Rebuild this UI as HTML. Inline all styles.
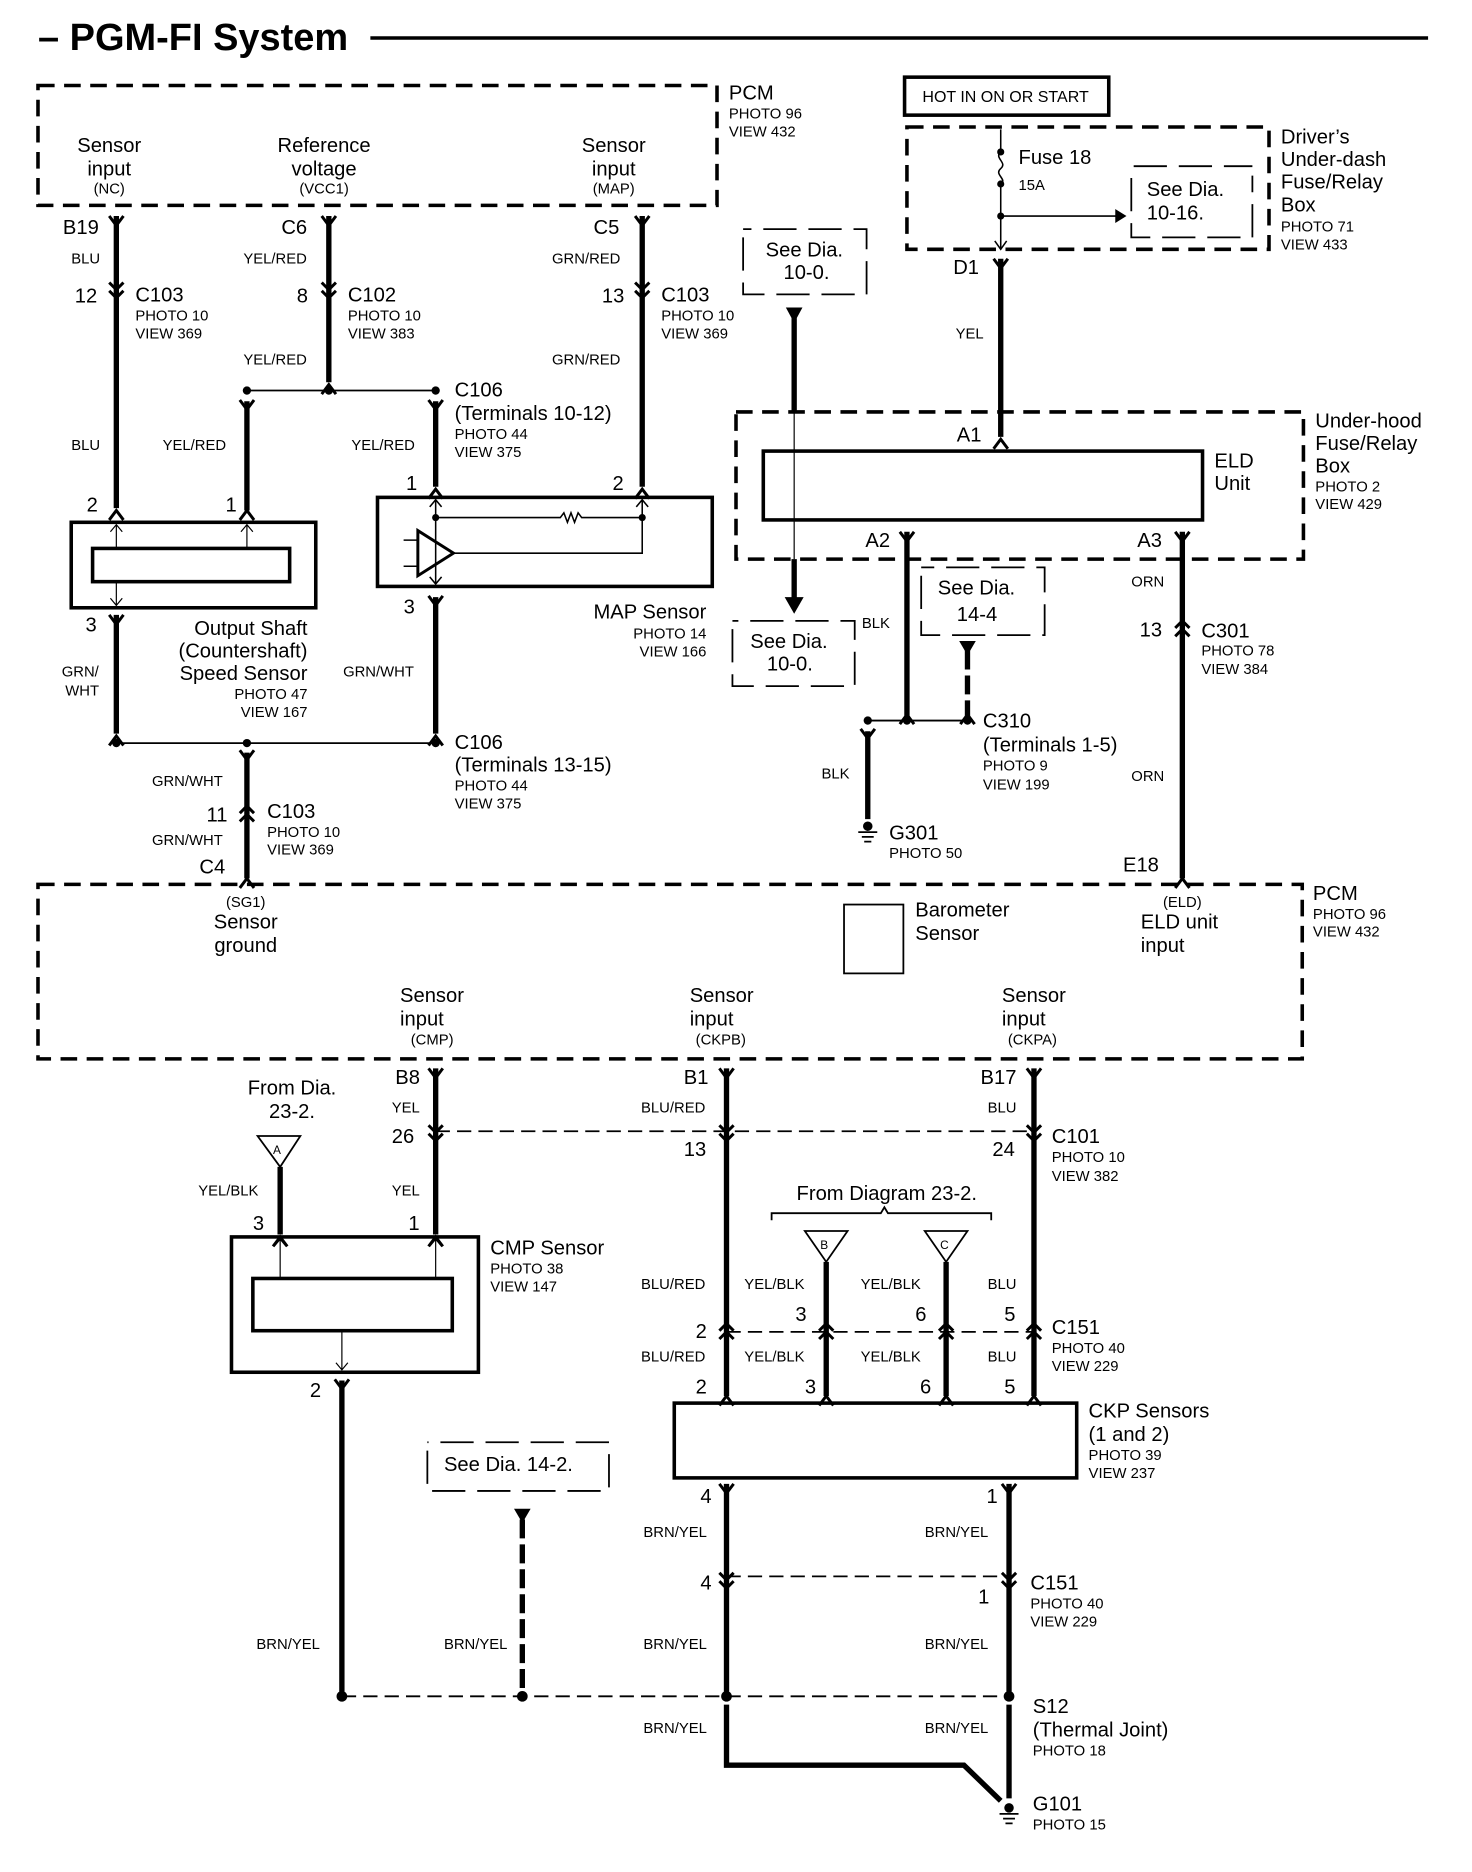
<!DOCTYPE html>
<html><head><meta charset="utf-8"><style>
html,body{margin:0;padding:0;background:#fff}
svg{display:block}
text{font-family:"Liberation Sans",sans-serif;fill:#000}
.L{font-size:17px}
.M{font-size:16px}
.S{font-size:12.5px}
.T{font-size:32px;font-weight:bold}
.c{text-anchor:middle}
.r{text-anchor:end}
</style></head><body>
<svg width="1472" height="1872" viewBox="0 0 1240 1577" preserveAspectRatio="none" xmlns="http://www.w3.org/2000/svg">
<defs>
<path id="yd" d="M-6,-6 L0,2 L6,-6" stroke="#000" stroke-width="2.5" fill="none"/>
<path id="yu" d="M-6,6 L0,-2 L6,6" stroke="#000" stroke-width="2.5" fill="none"/>
<path id="dd" d="M-6,-8 L0,-2 L6,-8 M-6,-1 L0,5 L6,-1" stroke="#000" stroke-width="2.5" fill="none"/>
<path id="du" d="M-6,8 L0,2 L6,8 M-6,1 L0,-5 L6,1" stroke="#000" stroke-width="2.5" fill="none"/>
<g id="gnd"><circle cx="0" cy="-3" r="4"/><path d="M-8,2H8M-5,6H5M-3,10H3" stroke="#000" stroke-width="1.5"/></g>
</defs>
<g fill="none" stroke="#000">
<!-- title line -->
<line x1="312" y1="32" x2="1203" y2="32" stroke-width="3"/>
<!-- PCM top -->
<rect x="32" y="72" width="572" height="101" stroke-width="3" stroke-dasharray="14 8"/>
<!-- thick wires -->
<g stroke-width="4.5">
<line x1="98" y1="182" x2="98" y2="428"/>
<line x1="277" y1="182" x2="277" y2="322"/>
<line x1="541" y1="182" x2="541" y2="410"/>
<line x1="208" y1="338" x2="208" y2="430"/>
<line x1="367" y1="338" x2="367" y2="410"/>
<line x1="98" y1="518" x2="98" y2="618"/>
<line x1="367" y1="503" x2="367" y2="618"/>
<line x1="208" y1="634" x2="208" y2="740"/>
<line x1="843" y1="218" x2="843" y2="368"/>
<line x1="764" y1="448" x2="764" y2="603"/>
<line x1="996" y1="448" x2="996" y2="740"/>
<line x1="669" y1="268" x2="669" y2="347"/>
<line x1="669" y1="471" x2="669" y2="505"/>
<line x1="731" y1="616" x2="731" y2="690"/>
<line x1="367" y1="900" x2="367" y2="1040"/>
<line x1="612" y1="900" x2="612" y2="1176"/>
<line x1="871" y1="900" x2="871" y2="1176"/>
<line x1="236" y1="983" x2="236" y2="1040"/>
<line x1="696" y1="1063" x2="696" y2="1176"/>
<line x1="797" y1="1063" x2="797" y2="1176"/>
<line x1="288" y1="1163" x2="288" y2="1425"/>
<line x1="612" y1="1250" x2="612" y2="1425"/>
<line x1="850" y1="1250" x2="850" y2="1425"/>
<polyline points="612,1436 612,1487 812,1487 843,1517"/>
<line x1="850" y1="1436" x2="850" y2="1515"/>
</g>
<g stroke-width="4.5" stroke-dasharray="16 5">
<line x1="815" y1="548" x2="815" y2="603"/>
<line x1="440" y1="1280" x2="440" y2="1425"/>
</g>
<line x1="669" y1="347" x2="669" y2="471" stroke-width="1"/>
<!-- thin junctions -->
<g stroke-width="1.5">
<line x1="208" y1="329" x2="367" y2="329"/>
<line x1="98" y1="626" x2="367" y2="626"/>
<line x1="731" y1="607" x2="815" y2="607"/>
</g>
<g stroke-width="1.5" stroke-dasharray="12 6">
<line x1="367" y1="953" x2="871" y2="953"/>
<line x1="612" y1="1122" x2="871" y2="1122"/>
<line x1="612" y1="1328" x2="850" y2="1328"/>
<line x1="288" y1="1429" x2="850" y2="1429"/>
</g>
<!-- output shaft sensor -->
<rect x="60" y="440" width="206" height="72" stroke-width="3"/>
<rect x="78" y="462" width="166" height="28" stroke-width="3"/>
<g stroke-width="1"><path d="M98,462V442M93,448L98,442L103,448M208,462V442M203,448L208,442L213,448M98,490V510M93,504L98,510L103,504"/></g>
<!-- MAP sensor -->
<rect x="318" y="419" width="282" height="75" stroke-width="3"/>
<g stroke-width="1.3">
<path d="M367,421V492M362,427L367,421L372,427M362,486L367,492L372,486"/>
<path d="M367,436H472l3,-4l3,8l3,-8l3,8l3,-8l3,4H541"/>
<path d="M541,421V466H381M536,427L541,421L546,427"/>
<path d="M340,455H352M340,477H352"/>
</g>
<polygon points="352,447 352,485 382,466" stroke-width="2.5"/>
<!-- top right -->
<rect x="762" y="65" width="172" height="32" stroke-width="3"/>
<rect x="764" y="107" width="305" height="103" stroke-width="3" stroke-dasharray="14 8"/>
<g stroke-width="1.3">
<path d="M843,109V128M843,128c-6,5 6,9 0,14c-6,5 6,9 0,13M843,155V210M838,203L843,210L848,203M843,182H940"/>
</g>
<polygon points="940,177 948,182 940,187" fill="#000"/>
<path d="M953,150V200H1055V148M955,140H1055" stroke-width="1.5" stroke-dasharray="28 10"/>
<rect x="620" y="347" width="478" height="124" stroke-width="3" stroke-dasharray="14 8"/>
<rect x="643" y="380" width="370" height="58" stroke-width="3"/>
<path d="M626,200V248H730V193H626" stroke-width="1.5" stroke-dasharray="28 10"/>
<path d="M617,530V578H720V523H617" stroke-width="1.5" stroke-dasharray="28 10"/>
<path d="M776,485V535H880V478H776" stroke-width="1.5" stroke-dasharray="28 10"/>
<!-- PCM bottom -->
<rect x="32" y="745" width="1065" height="147" stroke-width="3" stroke-dasharray="14 8"/>
<rect x="711" y="762" width="50" height="58" stroke-width="1.5"/>
<!-- CMP -->
<polygon points="217,957 253,957 236,983" stroke-width="1.5"/>
<rect x="195" y="1042" width="208" height="114" stroke-width="3"/>
<rect x="213" y="1077" width="168" height="44" stroke-width="3"/>
<g stroke-width="1"><path d="M236,1077V1044M231,1050L236,1044L241,1050M367,1077V1044M362,1050L367,1044L372,1050M288,1121V1154M283,1148L288,1154L293,1148"/></g>
<path d="M650,1028V1022H742l3,-5l3,5H835V1028" stroke-width="1.5"/>
<polygon points="678,1037 714,1037 696,1063" stroke-width="1.5"/>
<polygon points="779,1037 815,1037 797,1063" stroke-width="1.5"/>
<rect x="568" y="1182" width="339" height="63" stroke-width="3"/>
<path d="M360,1222V1256H513V1215H360" stroke-width="1.5" stroke-dasharray="28 10"/>
</g>
<!-- arrowheads -->
<polygon points="662,259 676,259 669,272" />
<polygon points="661,503 677,503 669,517" />
<polygon points="808,540 822,540 815,552" />
<polygon points="433,1271 447,1271 440,1283" />
<!-- dots -->
<g fill="#000">
<circle cx="208" cy="329" r="3.5"/><circle cx="277" cy="329" r="3.5"/><circle cx="367" cy="329" r="3.5"/>
<circle cx="98" cy="626" r="3.5"/><circle cx="208" cy="626" r="3.5"/><circle cx="367" cy="626" r="3.5"/>
<circle cx="731" cy="607" r="3.5"/><circle cx="764" cy="607" r="3.5"/><circle cx="815" cy="607" r="3.5"/>
<circle cx="367" cy="436" r="3"/><circle cx="541" cy="436" r="3"/>
<circle cx="843" cy="128" r="3"/><circle cx="843" cy="155" r="3"/><circle cx="843" cy="182" r="3"/>
<circle cx="288" cy="1429" r="4.5"/><circle cx="440" cy="1429" r="4.5"/><circle cx="612" cy="1429" r="4.5"/><circle cx="850" cy="1429" r="4.5"/>
</g>
<!-- connector glyphs -->
<use href="#yd" x="98" y="188"/><use href="#yd" x="277" y="188"/><use href="#yd" x="541" y="188"/>
<use href="#dd" x="98" y="246"/><use href="#dd" x="277" y="246"/><use href="#dd" x="541" y="246"/>
<use href="#yu" x="277" y="326"/><use href="#yd" x="208" y="343"/><use href="#yd" x="367" y="343"/>
<use href="#yu" x="98" y="432"/><use href="#yu" x="208" y="432"/><use href="#yu" x="367" y="414"/><use href="#yu" x="541" y="414"/>
<use href="#yd" x="98" y="524"/><use href="#yd" x="367" y="508"/>
<use href="#yu" x="98" y="622"/><use href="#yu" x="367" y="622"/><use href="#yd" x="208" y="638"/>
<use href="#du" x="208" y="684"/><use href="#yu" x="208" y="742"/>
<use href="#yd" x="843" y="224"/><use href="#yu" x="843" y="372"/>
<use href="#yd" x="764" y="454"/><use href="#yd" x="996" y="454"/>
<use href="#du" x="996" y="528"/><use href="#yu" x="996" y="742"/>
<use href="#yu" x="764" y="604"/><use href="#yu" x="815" y="604"/><use href="#yd" x="731" y="620"/>
<use href="#use" x="0" y="0"/>
<use href="#yd" x="367" y="906"/><use href="#yd" x="612" y="906"/><use href="#yd" x="871" y="906"/>
<use href="#dd" x="367" y="956"/><use href="#dd" x="612" y="956"/><use href="#dd" x="871" y="956"/>
<use href="#yu" x="236" y="1044"/><use href="#yu" x="367" y="1044"/><use href="#yd" x="288" y="1168"/>
<use href="#du" x="612" y="1120"/><use href="#du" x="696" y="1120"/><use href="#du" x="797" y="1120"/><use href="#du" x="871" y="1120"/>
<use href="#yu" x="612" y="1178"/><use href="#yu" x="696" y="1178"/><use href="#yu" x="797" y="1178"/><use href="#yu" x="871" y="1178"/>
<use href="#yd" x="612" y="1256"/><use href="#yd" x="850" y="1256"/>
<use href="#dd" x="612" y="1333"/><use href="#dd" x="850" y="1333"/>
<use href="#gnd" x="731" y="699"/><use href="#gnd" x="850" y="1526"/>

<!-- TEXT -->
<text class="T" x="32" y="42">– PGM-FI System</text>
<g class="L">
<text class="c" x="92" y="128">Sensor</text><text class="c" x="92" y="148">input</text>
<text class="c" x="273" y="128">Reference</text><text class="c" x="273" y="148">voltage</text>
<text class="c" x="517" y="128">Sensor</text><text class="c" x="517" y="148">input</text>
<text x="614" y="84">PCM</text>
<text x="53" y="197">B19</text><text x="237" y="197">C6</text><text x="500" y="197">C5</text>
<text x="63" y="255">12</text><text x="114" y="254">C103</text>
<text x="250" y="255">8</text><text x="293" y="254">C102</text>
<text x="507" y="255">13</text><text x="557" y="254">C103</text>
<text x="383" y="334">C106</text><text x="383" y="354">(Terminals 10-12)</text>
<text x="73" y="431">2</text><text x="190" y="431">1</text><text x="342" y="413">1</text><text x="516" y="413">2</text>
<text x="72" y="532">3</text><text x="340" y="517">3</text>
<text class="r" x="259" y="535">Output Shaft</text><text class="r" x="259" y="554">(Countershaft)</text><text class="r" x="259" y="573">Speed Sensor</text>
<text class="r" x="595" y="521">MAP Sensor</text>
<text x="383" y="631">C106</text><text x="383" y="650">(Terminals 13-15)</text>
<text x="174" y="692">11</text><text x="225" y="689">C103</text><text x="168" y="736">C4</text>
<text x="858" y="138">Fuse 18</text>
<text x="966" y="165">See Dia.</text><text x="966" y="185">10-16.</text>
<text x="1079" y="121">Driver’s</text><text x="1079" y="140">Under-dash</text><text x="1079" y="159">Fuse/Relay</text><text x="1079" y="178">Box</text>
<text x="803" y="231">D1</text><text x="806" y="372">A1</text>
<text x="1023" y="394">ELD</text><text x="1023" y="413">Unit</text>
<text x="1108" y="360">Under-hood</text><text x="1108" y="379">Fuse/Relay</text><text x="1108" y="398">Box</text>
<text x="729" y="461">A2</text><text x="958" y="461">A3</text>
<text x="645" y="216">See Dia.</text><text x="660" y="235">10-0.</text>
<text x="632" y="546">See Dia.</text><text x="646" y="565">10-0.</text>
<text x="790" y="501">See Dia.</text><text x="806" y="523">14-4</text>
<text x="960" y="536">13</text><text x="1012" y="537">C301</text>
<text x="828" y="613">C310</text><text x="828" y="633">(Terminals 1-5)</text>
<text x="749" y="707">G301</text><text x="946" y="734">E18</text>
<text class="c" x="207" y="782">Sensor</text><text class="c" x="207" y="802">ground</text>
<text x="771" y="772">Barometer</text><text x="771" y="792">Sensor</text>
<text x="961" y="782">ELD unit</text><text x="961" y="802">input</text>
<text x="1106" y="758">PCM</text>
<text x="337" y="844">Sensor</text><text x="337" y="864">input</text>
<text x="581" y="844">Sensor</text><text x="581" y="864">input</text>
<text x="844" y="844">Sensor</text><text x="844" y="864">input</text>
<text x="333" y="913">B8</text><text x="576" y="913">B1</text><text x="826" y="913">B17</text>
<text class="c" x="246" y="922">From Dia.</text><text class="c" x="246" y="942">23-2.</text>
<text x="330" y="963">26</text><text x="576" y="974">13</text><text x="836" y="974">24</text><text x="886" y="963">C101</text>
<text x="671" y="1011">From Diagram 23-2.</text>
<text x="213" y="1036">3</text><text x="344" y="1036">1</text>
<text x="413" y="1057">CMP Sensor</text>
<text x="670" y="1113">3</text><text x="771" y="1113">6</text><text x="846" y="1113">5</text><text x="586" y="1127">2</text>
<text x="886" y="1124">C151</text>
<text x="586" y="1174">2</text><text x="678" y="1174">3</text><text x="775" y="1174">6</text><text x="846" y="1174">5</text>
<text x="261" y="1177">2</text>
<text x="917" y="1194">CKP Sensors</text><text x="917" y="1214">(1 and 2)</text>
<text x="374" y="1239">See Dia. 14-2.</text>
<text x="590" y="1266">4</text><text x="831" y="1266">1</text>
<text x="590" y="1339">4</text><text x="824" y="1351">1</text><text x="868" y="1339">C151</text>
<text x="870" y="1443">S12</text><text x="870" y="1463">(Thermal Joint)</text>
<text x="870" y="1525">G101</text>
</g>
<g class="S">
<text class="c" x="92" y="163">(NC)</text><text class="c" x="273" y="163">(VCC1)</text><text class="c" x="517" y="163">(MAP)</text>
<text x="614" y="100">PHOTO 96</text><text x="614" y="115">VIEW 432</text>
<text x="60" y="222">BLU</text><text x="205" y="222">YEL/RED</text><text x="465" y="222">GRN/RED</text>
<text x="114" y="270">PHOTO 10</text><text x="114" y="285">VIEW 369</text>
<text x="293" y="270">PHOTO 10</text><text x="293" y="285">VIEW 383</text>
<text x="557" y="270">PHOTO 10</text><text x="557" y="285">VIEW 369</text>
<text x="205" y="307">YEL/RED</text><text x="465" y="307">GRN/RED</text>
<text x="383" y="370">PHOTO 44</text><text x="383" y="385">VIEW 375</text>
<text x="60" y="379">BLU</text><text x="137" y="379">YEL/RED</text><text x="296" y="379">YEL/RED</text>
<text x="52" y="570">GRN/</text><text x="55" y="586">WHT</text><text x="289" y="570">GRN/WHT</text>
<text class="r" x="259" y="589">PHOTO 47</text><text class="r" x="259" y="604">VIEW 167</text>
<text class="r" x="595" y="538">PHOTO 14</text><text class="r" x="595" y="553">VIEW 166</text>
<text x="383" y="666">PHOTO 44</text><text x="383" y="681">VIEW 375</text>
<text x="128" y="662">GRN/WHT</text><text x="128" y="712">GRN/WHT</text>
<text x="225" y="705">PHOTO 10</text><text x="225" y="720">VIEW 369</text>
<text x="777" y="86" style="font-size:13.5px">HOT IN ON OR START</text>
<text x="858" y="160">15A</text>
<text x="1079" y="195">PHOTO 71</text><text x="1079" y="210">VIEW 433</text>
<text x="805" y="285">YEL</text>
<text x="1108" y="414">PHOTO 2</text><text x="1108" y="429">VIEW 429</text>
<text x="953" y="494">ORN</text><text x="726" y="529">BLK</text>
<text x="1012" y="552">PHOTO 78</text><text x="1012" y="568">VIEW 384</text>
<text x="828" y="649">PHOTO 9</text><text x="828" y="665">VIEW 199</text>
<text x="692" y="656">BLK</text><text x="953" y="658">ORN</text>
<text x="749" y="723">PHOTO 50</text>
<text class="c" x="207" y="764">(SG1)</text><text class="c" x="996" y="764">(ELD)</text>
<text x="1106" y="774">PHOTO 96</text><text x="1106" y="789">VIEW 432</text>
<text x="346" y="880">(CMP)</text><text x="586" y="880">(CKPB)</text><text x="849" y="880">(CKPA)</text>
<text x="330" y="937">YEL</text><text x="540" y="937">BLU/RED</text><text x="832" y="937">BLU</text>
<text x="886" y="979">PHOTO 10</text><text x="886" y="995">VIEW 382</text>
<text x="167" y="1007">YEL/BLK</text><text x="330" y="1007">YEL</text>
<text x="230" y="972" style="font-size:10px">A</text><text x="691" y="1052" style="font-size:10px">B</text><text x="792" y="1052" style="font-size:10px">C</text>
<text x="413" y="1073">PHOTO 38</text><text x="413" y="1088">VIEW 147</text>
<text x="540" y="1086">BLU/RED</text><text x="627" y="1086">YEL/BLK</text><text x="725" y="1086">YEL/BLK</text><text x="832" y="1086">BLU</text>
<text x="886" y="1140">PHOTO 40</text><text x="886" y="1155">VIEW 229</text>
<text x="540" y="1147">BLU/RED</text><text x="627" y="1147">YEL/BLK</text><text x="725" y="1147">YEL/BLK</text><text x="832" y="1147">BLU</text>
<text x="917" y="1230">PHOTO 39</text><text x="917" y="1245">VIEW 237</text>
<text x="542" y="1295">BRN/YEL</text><text x="779" y="1295">BRN/YEL</text>
<text x="868" y="1355">PHOTO 40</text><text x="868" y="1370">VIEW 229</text>
<text x="216" y="1389">BRN/YEL</text><text x="374" y="1389">BRN/YEL</text><text x="542" y="1389">BRN/YEL</text><text x="779" y="1389">BRN/YEL</text>
<text x="542" y="1460">BRN/YEL</text><text x="779" y="1460">BRN/YEL</text>
<text x="870" y="1479">PHOTO 18</text><text x="870" y="1541">PHOTO 15</text>
</g>
</svg>
</body></html>
